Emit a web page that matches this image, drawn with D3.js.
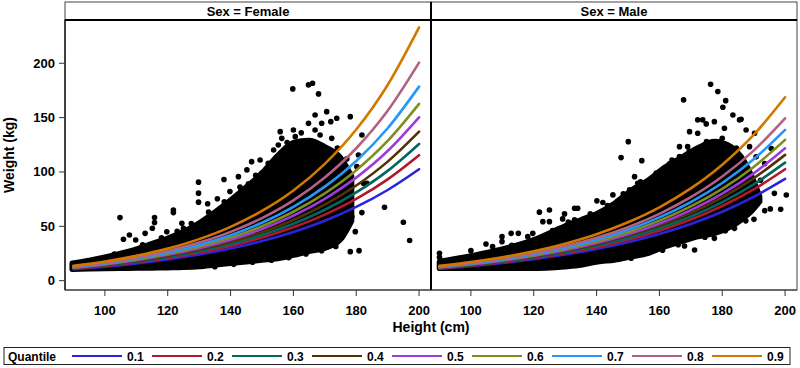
<!DOCTYPE html>
<html lang="en">
<head>
  <meta charset="UTF-8" />
  <title>Weight vs Height quantile regression</title>
  <script src="https://d3js.org/d3.v7.min.js"></script>
  <style>
    body { margin: 0; background: #fff; }
    svg { display: block; font-family: "Liberation Sans", Arial, sans-serif; }
    .tick-label { font-size: 13px; font-weight: bold; fill: #000; }
    .legend-label { font-size: 12px; font-weight: bold; fill: #000; }
    .axis-label { font-size: 14px; font-weight: bold; fill: #000; }
    .header { font-size: 13px; font-weight: bold; fill: #000; }
    .curve { fill: none; stroke-width: 2.6px; stroke-linecap: round; }
  </style>
</head>
<body>
<svg width="800" height="368"></svg>
<script>
  // quantile levels and SAS-like colours
  const quantiles = ["0.1", "0.2", "0.3", "0.4", "0.5", "0.6", "0.7", "0.8", "0.9"];
  const colors = ["#2A25D9", "#B2182B", "#01665E", "#543005", "#9D3CDB", "#7F8E1F", "#2597FA", "#B26084", "#D17800"];

  const xTicks = [100, 120, 140, 160, 180, 200];
  const yTicks = [0, 50, 100, 150, 200];

  // heights where the fitted curves are read
  const curveHeights = [90, 100, 110, 120, 130, 140, 150, 160, 170, 180, 190, 200];

  const femaleCurves = [
    [10.5, 12.9, 15.9, 19.6, 24.1, 29.6, 36.4, 44.8, 55.1, 67.8, 83.4, 102.5],
    [11.0, 13.6, 16.9, 20.9, 25.9, 32.0, 39.6, 49.1, 60.8, 75.2, 93.2, 115.4],
    [11.3, 14.1, 17.5, 21.8, 27.1, 33.8, 42.1, 52.4, 65.2, 81.2, 101.0, 125.8],
    [11.6, 14.5, 18.2, 22.8, 28.5, 35.6, 44.6, 55.8, 69.9, 87.5, 109.5, 137.1],
    [11.9, 15.0, 18.9, 23.8, 29.9, 37.7, 47.5, 59.8, 75.3, 94.8, 119.3, 150.3],
    [12.2, 15.4, 19.5, 24.7, 31.3, 39.6, 50.1, 63.4, 80.3, 101.6, 128.5, 162.6],
    [12.5, 15.9, 20.3, 25.8, 32.9, 41.9, 53.3, 67.9, 86.5, 110.1, 140.2, 178.5],
    [12.9, 16.6, 21.2, 27.3, 35.0, 44.9, 57.6, 73.9, 94.9, 121.8, 156.3, 200.6],
    [13.6, 17.6, 22.8, 29.5, 38.2, 49.5, 64.1, 82.9, 107.4, 139.0, 180.0, 233.0]
  ];

  const maleCurves = [
    [11.0, 13.4, 16.2, 19.7, 24.0, 29.1, 35.4, 43.0, 52.2, 63.4, 77.1, 93.6],
    [11.3, 13.8, 16.9, 20.6, 25.2, 30.8, 37.6, 46.0, 56.2, 68.7, 83.9, 102.5],
    [11.6, 14.2, 17.4, 21.4, 26.2, 32.1, 39.3, 48.2, 59.0, 72.3, 88.6, 108.6],
    [11.9, 14.6, 18.0, 22.1, 27.2, 33.5, 41.2, 50.6, 62.2, 76.5, 94.1, 115.7],
    [12.1, 14.9, 18.4, 22.7, 28.0, 34.6, 42.6, 52.6, 64.9, 80.0, 98.7, 121.8],
    [12.4, 15.4, 19.0, 23.5, 29.1, 36.0, 44.6, 55.2, 68.3, 84.5, 104.6, 129.5],
    [12.7, 15.8, 19.6, 24.4, 30.3, 37.7, 46.8, 58.2, 72.3, 89.8, 111.6, 138.7],
    [13.0, 16.2, 20.3, 25.3, 31.6, 39.4, 49.2, 61.5, 76.8, 95.8, 119.6, 149.4],
    [13.6, 17.1, 21.5, 27.0, 34.0, 42.7, 53.7, 67.5, 84.9, 106.7, 134.1, 168.7]
  ];

  // dense part of the scatter: upper / lower edge of the point mass
  const femaleCloudHeights = [89.6, 95, 100, 105, 110, 115, 120, 125, 130, 135, 140, 145, 150, 155, 160, 165, 170, 175, 178.5];
  const femaleCloudUpper   = [16, 18.5, 21.5, 25, 29, 34, 39, 45, 53, 63, 74, 86, 99, 115, 127, 129, 123, 113, 96];
  const femaleCloudLower   = [10.5, 11, 11.3, 11.5, 11.6, 11.8, 12, 12.3, 13, 14.5, 16, 17.5, 19, 20.5, 23.5, 27, 30, 38, 55];

  const maleCloudHeights = [90, 97.9, 108.5, 119.1, 129.8, 135.1, 140.4, 145.7, 151, 156.3, 161.6, 166.9, 172.2, 177.5, 182.8, 186, 189.2, 191.9];
  const maleCloudUpper   = [17.5, 21.5, 28, 36.5, 50, 56, 62, 71, 83, 92, 104, 113, 122, 128, 123, 114, 97, 77.3];
  const maleCloudLower   = [11.4, 11.4, 11.4, 11.4, 12.9, 14.4, 17.5, 19, 22.1, 25.2, 31.3, 35.9, 40.5, 43.5, 49.7, 55.9, 63.5, 72.7];

  // isolated points and points on the rim of the mass [height, weight]
  const femaleOutliers = [
    [104.8, 58.0], [105.9, 38.1], [107.8, 42.0], [109.8, 37.4], [112.8, 43.5], [115.8, 58.0],
    [115.8, 53.4], [115.1, 48.2], [121.8, 65.0], [121.8, 62.6], [119.7, 45.0], [124.5, 52.8],
    [125.0, 48.2], [129.8, 90.6], [129.8, 80.5], [129.8, 72.2], [132.7, 70.7], [135.8, 75.3],
    [137.9, 93.0], [139.8, 82.0], [145.7, 89.0], [146.7, 109.5], [150.0, 99.0], [155.8, 137.1],
    [153.7, 120.2], [159.8, 176.4], [164.8, 180.1], [166.1, 181.6], [168.0, 171.8], [160.0, 138.6],
    [164.8, 144.8], [166.9, 152.4], [170.6, 155.5], [173.8, 149.4], [171.9, 146.3], [169.0, 144.8],
    [178.1, 150.9], [181.8, 134.0], [180.7, 115.6], [180.2, 104.9], [182.3, 89.6], [183.4, 89.6],
    [181.8, 62.6], [179.7, 45.1], [178.1, 26.7], [180.9, 27.6], [189.0, 67.5], [195.0, 53.7],
    [197.0, 36.9], [175.4, 54.3], [174.9, 63.5], [178.6, 58.9], [172.2, 130.9], [166.9, 138.6],
    [160.6, 132.5], [156.3, 130.9], [155.2, 124.8], [149.4, 111.0], [145.2, 101.9], [142.5, 95.7],
    [103.0, 24.5], [112.0, 33.0], [118.0, 39.5], [123.0, 45.5], [127.5, 52.5], [133.0, 63.0],
    [138.0, 72.5], [143.0, 86.0], [148.0, 97.0], [152.0, 108.0], [158.0, 127.0], [162.5, 136.0],
    [168.5, 134.0], [174.0, 122.0], [177.0, 112.0], [135.0, 12.8], [141.0, 15.0], [147.0, 17.0],
    [153.0, 18.8], [158.5, 21.2], [164.0, 24.5], [169.0, 27.5], [173.5, 31.5]
  ];

  const maleOutliers = [
    [90.0, 25.2], [90.0, 21.5], [100.0, 27.6], [104.8, 33.7], [106.9, 31.3], [109.9, 40.5],
    [109.9, 35.9], [112.8, 43.5], [115.1, 43.5], [118.1, 40.5], [119.7, 43.5], [121.8, 63.0],
    [125.0, 65.0], [122.9, 54.3], [125.0, 54.3], [123.9, 37.4], [129.8, 61.4], [129.2, 56.8],
    [133.0, 66.6], [134.0, 66.6], [133.0, 55.9], [140.1, 73.4], [142.0, 71.9], [145.2, 78.9],
    [145.2, 69.8], [146.7, 72.8], [147.8, 113.2], [150.1, 127.9], [154.4, 110.4], [150.5, 83.5],
    [153.1, 89.6], [152.1, 95.7], [156.8, 89.6], [160.5, 97.3], [163.2, 107.4], [166.4, 114.1],
    [167.7, 166.3], [166.4, 123.3], [169.0, 123.3], [169.6, 137.1], [172.2, 147.9], [173.8, 147.9],
    [174.9, 144.2], [172.2, 135.6], [176.3, 180.7], [178.6, 174.0], [180.2, 159.5], [181.1, 165.6],
    [177.5, 146.3], [180.7, 140.2], [183.4, 152.4], [185.5, 147.9], [186.0, 148.5], [187.6, 138.6],
    [190.3, 135.6], [188.7, 123.3], [171.2, 28.2], [168.0, 31.9], [177.5, 38.9], [183.9, 48.1],
    [190.1, 56.4], [193.5, 64.4], [195.3, 66.0], [198.6, 65.6], [196.6, 80.3], [200.4, 78.8],
    [192.2, 92.4], [193.5, 107.7], [195.6, 121.5], [190.8, 113.9], [157.4, 28.2], [151.0, 20.6],
    [145.7, 22.7], [113.0, 32.5], [126.0, 46.0], [131.0, 54.0], [138.0, 61.5], [143.5, 69.0],
    [148.5, 80.0], [154.0, 91.0], [159.0, 99.0], [164.0, 111.0], [169.5, 119.0], [175.0, 128.0],
    [180.0, 131.0], [184.5, 122.0], [161.0, 28.0], [166.0, 33.0], [174.5, 40.0], [181.0, 46.0],
    [187.5, 55.0]
  ];

  const svg = d3.select("svg");
  const plotTop = 20, plotBottom = 290, headerTop = 2;

  const y = d3.scaleLinear().domain([-8.6, 239.8]).range([plotBottom, plotTop]);

  const panels = [
    { label: "Sex = Female", x0: 65, x1: 431, curves: femaleCurves,
      cloudH: femaleCloudHeights, cloudU: femaleCloudUpper, cloudL: femaleCloudLower, outliers: femaleOutliers },
    { label: "Sex = Male", x0: 431, x1: 797, curves: maleCurves,
      cloudH: maleCloudHeights, cloudU: maleCloudUpper, cloudL: maleCloudLower, outliers: maleOutliers }
  ];

  panels.forEach((p, pi) => {
    const x = d3.scaleLinear().domain([87.3, 203.8]).range([p.x0, p.x1]);

    svg.append("clipPath").attr("id", "clip" + pi)
      .append("rect")
      .attr("x", p.x0).attr("y", plotTop)
      .attr("width", p.x1 - p.x0).attr("height", plotBottom - plotTop);

    const g = svg.append("g").attr("clip-path", `url(#clip${pi})`);

    // dense point mass
    const cloud = p.cloudH.map((h, i) => ({ h, u: p.cloudU[i], l: p.cloudL[i] }));
    g.append("path")
      .datum(cloud)
      .attr("d", d3.area().x(d => x(d.h)).y0(d => y(d.l)).y1(d => y(d.u)).curve(d3.curveMonotoneX))
      .attr("fill", "#000")
      .attr("stroke", "#000")
      .attr("stroke-width", 5.6)
      .attr("stroke-linejoin", "round");

    g.selectAll("circle.pt")
      .data(p.outliers)
      .enter()
      .append("circle")
      .attr("class", "pt")
      .attr("cx", d => x(d[0]))
      .attr("cy", d => y(d[1]))
      .attr("r", 2.8)
      .attr("fill", "#000");

    // quantile curves
    const line = d3.line().x((d, i) => x(curveHeights[i])).y(d => y(d)).curve(d3.curveMonotoneX);
    g.selectAll("path.curve")
      .data(p.curves)
      .enter()
      .append("path")
      .attr("class", "curve")
      .attr("d", d => line(d))
      .attr("stroke", (d, i) => colors[i]);

    // x axis ticks
    const xa = svg.append("g");
    xa.selectAll("line")
      .data(xTicks)
      .enter()
      .append("line")
      .attr("x1", d => x(d)).attr("x2", d => x(d))
      .attr("y1", plotBottom).attr("y2", plotBottom + 6)
      .attr("stroke", "#333").attr("stroke-width", 1);
    xa.selectAll("text")
      .data(xTicks)
      .enter()
      .append("text")
      .attr("class", "tick-label")
      .attr("x", d => x(d))
      .attr("y", plotBottom + 24.5)
      .attr("text-anchor", "middle")
      .text(d => d);

    // header
    svg.append("rect")
      .attr("x", p.x0).attr("y", headerTop)
      .attr("width", p.x1 - p.x0).attr("height", plotTop - headerTop)
      .attr("fill", "#fff").attr("stroke", "#444").attr("stroke-width", 1);
    svg.append("text")
      .attr("class", "header")
      .attr("x", (p.x0 + p.x1) / 2)
      .attr("y", 16)
      .attr("text-anchor", "middle")
      .text(p.label);

    // frame
    svg.append("rect")
      .attr("x", p.x0).attr("y", plotTop)
      .attr("width", p.x1 - p.x0).attr("height", plotBottom - plotTop)
      .attr("fill", "none").attr("stroke", "#444").attr("stroke-width", 1);
  });

  // thicker header underline and panel divider
  svg.append("line").attr("x1", 65).attr("x2", 797).attr("y1", plotTop).attr("y2", plotTop)
    .attr("stroke", "#000").attr("stroke-width", 2);
  svg.append("line").attr("x1", 431).attr("x2", 431).attr("y1", headerTop).attr("y2", plotBottom)
    .attr("stroke", "#000").attr("stroke-width", 2);
  svg.append("line").attr("x1", 65).attr("x2", 65).attr("y1", plotTop).attr("y2", plotBottom)
    .attr("stroke", "#000").attr("stroke-width", 1.2);
  svg.append("line").attr("x1", 65).attr("x2", 797).attr("y1", plotBottom).attr("y2", plotBottom)
    .attr("stroke", "#333").attr("stroke-width", 1.2);

  // y axis (left panel only)
  const ya = svg.append("g");
  ya.selectAll("line")
    .data(yTicks)
    .enter()
    .append("line")
    .attr("x1", 59).attr("x2", 65)
    .attr("y1", d => y(d)).attr("y2", d => y(d))
    .attr("stroke", "#333");
  ya.selectAll("text")
    .data(yTicks)
    .enter()
    .append("text")
    .attr("class", "tick-label")
    .attr("x", 55)
    .attr("y", d => y(d) + 4.5)
    .attr("text-anchor", "end")
    .text(d => d);

  svg.append("text")
    .attr("class", "axis-label")
    .attr("transform", `translate(13.5,${(plotTop + plotBottom) / 2}) rotate(-90)`)
    .attr("text-anchor", "middle")
    .text("Weight (kg)");

  svg.append("text")
    .attr("class", "axis-label")
    .attr("x", 431)
    .attr("y", 332)
    .attr("text-anchor", "middle")
    .text("Height (cm)");

  // legend
  const legend = svg.append("g");
  legend.append("rect")
    .attr("x", 4).attr("y", 347.5)
    .attr("width", 786).attr("height", 17)
    .attr("fill", "#fff").attr("stroke", "#222").attr("stroke-width", 1);
  legend.append("text")
    .attr("class", "legend-label")
    .attr("x", 8).attr("y", 360.5)
    .text("Quantile");

  const items = legend.selectAll("g.item")
    .data(quantiles)
    .enter()
    .append("g")
    .attr("class", "item")
    .attr("transform", (d, i) => `translate(${72 + i * 80},0)`);
  items.append("line")
    .attr("x1", 0).attr("x2", 50)
    .attr("y1", 356).attr("y2", 356)
    .attr("stroke", (d, i) => colors[i])
    .attr("stroke-width", 2);
  items.append("text")
    .attr("class", "legend-label")
    .attr("x", 55).attr("y", 360.5)
    .text(d => d);
</script>
</body>
</html>
